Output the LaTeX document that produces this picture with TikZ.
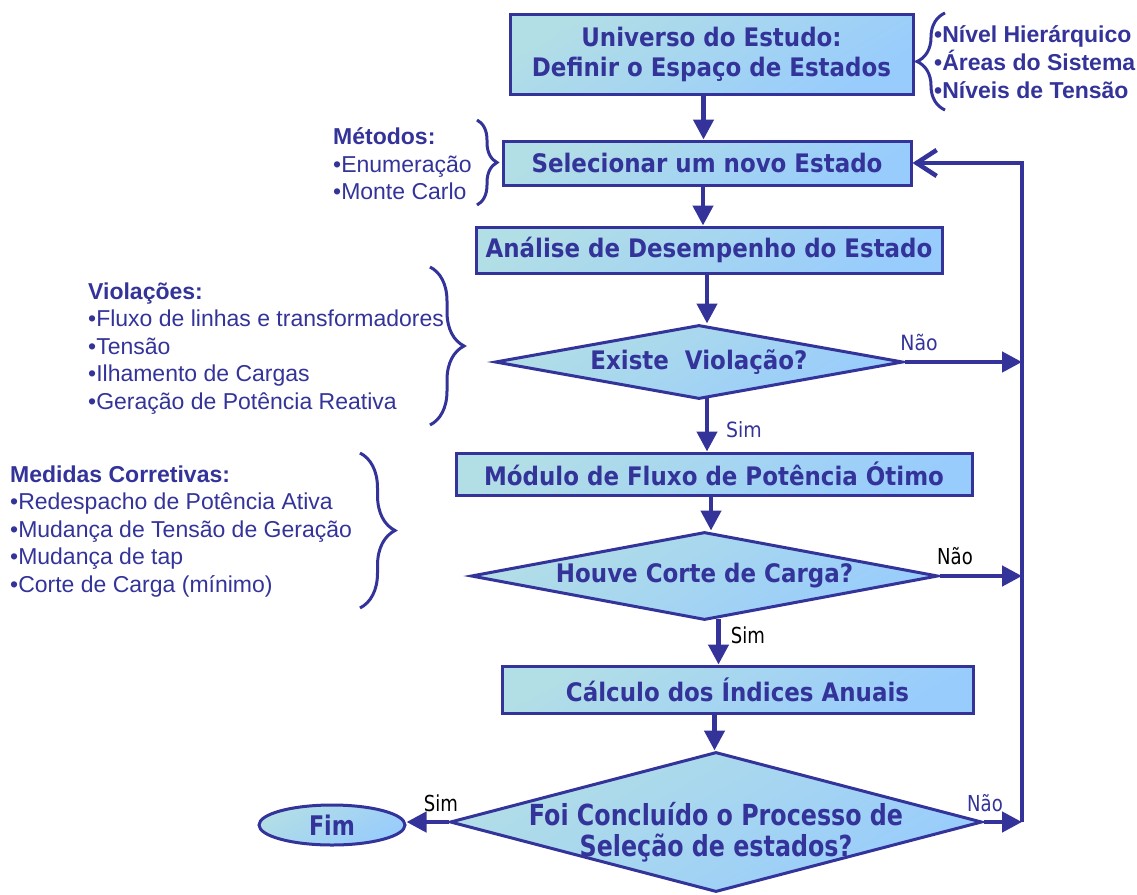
\documentclass[tikz,border=0pt]{standalone}
\usepackage{fontspec}
\setmainfont{Liberation Sans}
\newfontfamily\boxfont{DejaVu Sans}[FakeStretch=0.9]
\newfontfamily\narrowfont{DejaVu Sans}[FakeStretch=0.82]
\usetikzlibrary{shapes.geometric,arrows.meta,decorations.pathreplacing}
\definecolor{navy}{RGB}{51,51,153}
\definecolor{filltop}{RGB}{178,222,230}
\definecolor{fillbot}{RGB}{152,204,252}
\begin{document}
\begin{tikzpicture}[x=1pt,y=-1pt,
  every node/.style={text=navy},
  stepbox/.style={draw=navy, line width=3pt, top color=filltop, bottom color=fillbot,
    shading angle=30, align=center, inner sep=0pt,
    font=\boxfont\bfseries\fontsize{25.5}{30}\selectfont},
  decision/.style={diamond, draw=navy, line width=3pt, top color=filltop,
    bottom color=fillbot, shading angle=30, inner sep=0pt},
  qtext/.style={align=center, inner sep=0pt, font=\boxfont\bfseries\fontsize{25.5}{30}\selectfont},
  note/.style={align=left, inner sep=0pt, anchor=north west,
    font=\fontsize{23}{27.5}\selectfont},
  yesno/.style={inner sep=0pt, font=\boxfont\fontsize{21}{24}\selectfont},
  narrowlbl/.style={inner sep=0pt, font=\narrowfont\fontsize{22}{24}\selectfont},
  flow/.style={draw=navy, line width=4.5pt, -{Triangle[length=20pt,width=20pt]}},
  back/.style={draw=navy, line width=4.5pt, -{Straight Barb[length=20pt,width=26pt]}},
  brc/.style={draw=navy, line width=3pt, decorate, decoration={brace, amplitude=#1}}]
  \useasboundingbox (0,0) rectangle (1137,894);

  % main column
  \node[stepbox, minimum width=403pt, minimum height=80pt] (universo) at (711.5,54)
    {Universo do Estudo:\\Definir o Espaço de Estados};
  \node[stepbox, minimum width=408pt, minimum height=44pt] (selecionar) at (707,163)
    {Selecionar um novo Estado};
  \node[stepbox, minimum width=466pt, minimum height=46pt] (analise) at (709,250)
    {Análise de Desempenho do Estado};
  \node[decision, minimum width=408pt, minimum height=74pt] (violacao) at (699,362) {};
  \node[qtext] (violacao-t) at (violacao) {Existe~~Violação?};
  \node[stepbox, minimum width=516pt, minimum height=42pt] (otimo) at (714,474)
    {Módulo de Fluxo de Potência Ótimo};
  \node[decision, minimum width=467pt, minimum height=88pt] (corte) at (704.5,576) {};
  \node[qtext] (corte-t) at (corte) {Houve Corte de Carga?};
  \node[stepbox, minimum width=471pt, minimum height=47pt] (calculo) at (737.5,689.5)
    {Cálculo dos Índices Anuais};
  \node[decision, minimum width=532pt, minimum height=140pt] (concluido) at (716,822) {};
  \node[qtext, font=\narrowfont\bfseries\fontsize{29}{31}\selectfont] (concluido-t)
    at ([yshift=-10pt]concluido) {Foi Concluído o Processo de\\Seleção de estados?};
  \node[ellipse, draw=navy, line width=3pt, top color=filltop, bottom color=fillbot,
    shading angle=30, minimum width=146pt, minimum height=40pt, inner sep=0pt,
    font=\narrowfont\bfseries\fontsize{27}{28}\selectfont] (fim) at (332,825) {Fim};
  \coordinate (retorno) at (1022,163);

  % connectors
  \draw[flow] ([xshift=-8pt]universo.south) -- ([xshift=-8pt]universo.south |- selecionar.north);
  \draw[flow] ([xshift=-4pt]selecionar.south) -- ([xshift=-4pt]selecionar.south |- analise.north);
  \draw[flow] ([xshift=-2pt]analise.south) -- ([xshift=-2pt]analise.south |- violacao.north);
  \draw[flow] ([xshift=8pt,yshift=3pt]violacao.south) -- ([xshift=8pt]violacao.south |- otimo.north);
  \draw[flow] ([xshift=-3pt]otimo.south) -- ([xshift=-3pt]otimo.south |- corte.north);
  \draw[flow] ([xshift=14pt,yshift=3pt]corte.south) -- ([xshift=14pt]corte.south |- calculo.north);
  \draw[flow] ([xshift=-23pt]calculo.south) -- ([xshift=-23pt]calculo.south |- concluido.north);
  \draw[flow] (violacao.east) -- (violacao.east -| retorno);
  \draw[flow] (corte.east) -- (corte.east -| retorno);
  \draw[flow] (concluido.east) -- (concluido.east -| retorno);
  \draw[back] (concluido.east -| retorno) -- (retorno) -- (selecionar.east);
  \draw[flow] (concluido.west) -- (concluido.west -| fim.east);

  \node[yesno] (nao-a) at (919,342) {Não};
  \node[yesno] (sim-a) at (744,430) {Sim};
  \node[narrowlbl, text=black] (nao-b) at (955,556) {Não};
  \node[narrowlbl, text=black] (sim-b) at (748,635) {Sim};
  \node[narrowlbl, text=black] (sim-c) at (441,803) {Sim};
  \node[narrowlbl] (nao-c) at (985,803) {Não};

  % side notes
  \node[note, font=\bfseries\fontsize{23}{28}\selectfont] (espaco) at (934,25)
    {•Nível Hierárquico\\•Áreas do Sistema\\•Níveis de Tensão};
  \node[note] (metodos) at (333,127.5)
    {\textbf{Métodos:}\\•Enumeração\\•Monte Carlo};
  \node[note] (violacoes) at (88,282.5)
    {\textbf{Violações:}\\•Fluxo de linhas e transformadores\\•Tensão\\•Ilhamento de Cargas\\•Geração de Potência Reativa};
  \node[note] (medidas) at (10,465.5)
    {\textbf{Medidas Corretivas:}\\•Redespacho de Potência Ativa\\•Mudança de Tensão de Geração\\•Mudança de tap\\•Corte de Carga (mínimo)};

  \draw[brc=28pt] (945,110) -- (945,13);
  \draw[brc=20pt] (477,120) -- (477,205);
  \draw[brc=34pt] (430,267) -- (430,425);
  \draw[brc=35pt] (360,453) -- (360,608);
\end{tikzpicture}
\end{document}
